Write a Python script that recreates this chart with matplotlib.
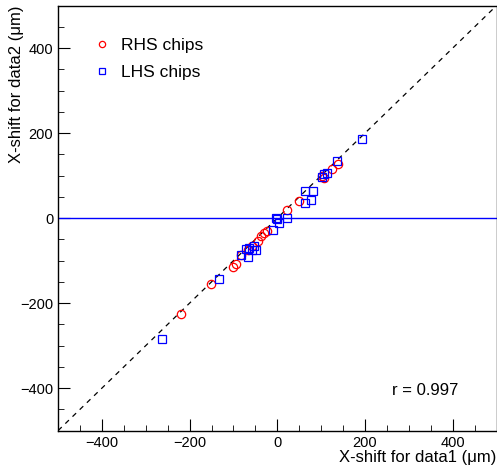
import matplotlib.pyplot as plt
from matplotlib.ticker import MultipleLocator

plt.rcParams['font.family'] = ['Liberation Sans', 'DejaVu Sans']

# RHS chips (data1 shift, data2 shift) in um
rhs_x = [-220, -151, -101, -94, -82, -68, -57, -45, -38, -30, -23, 23, 50, 102, 106, 125, 138]
rhs_y = [-226, -155, -115, -108, -87, -76, -66, -54, -43, -35, -31, 18, 40, 99, 95, 115, 128]

# LHS chips
lhs_x = [-264, -132, -83, -72, -66, -64, -57, -53, -49, -9, -4, 0, 4, 23, 64, 64, 76, 81, 101, 106, 113, 137, 194]
lhs_y = [-284, -144, -86, -73, -92, -70, -74, -66, -76, -29, 0, -3, -11, 1, 36, 64, 43, 64, 97, 103, 107, 135, 186]

r_value = 0.997

fig = plt.figure(figsize=(4.97, 4.69), dpi=100)
ax = fig.add_axes([0.117, 0.082, 0.882, 0.906])

ax.plot([-500, 500], [-500, 500], color='black', linestyle=(0, (4, 4)), linewidth=0.9)
ax.axhline(0, color='blue', linewidth=1)

ax.plot(rhs_x, rhs_y, linestyle='none', marker='o', markersize=6, markerfacecolor='none',
        markeredgecolor='red', markeredgewidth=0.9, label='RHS chips')
ax.plot(lhs_x, lhs_y, linestyle='none', marker='s', markersize=6, markerfacecolor='none',
        markeredgecolor='blue', markeredgewidth=0.9, label='LHS chips')

ax.set_xlim(-500, 500)
ax.set_ylim(-500, 500)
ax.xaxis.set_major_locator(MultipleLocator(200))
ax.xaxis.set_minor_locator(MultipleLocator(50))
ax.yaxis.set_major_locator(MultipleLocator(200))
ax.yaxis.set_minor_locator(MultipleLocator(50))
ax.tick_params(which='both', direction='in', labelsize=10.5, top=False, right=False)
ax.tick_params(which='major', length=8.6)
ax.tick_params(which='minor', length=4.3)
ax.tick_params(axis='x', pad=4)
for s in ax.spines.values():
    s.set_linewidth(1)

ax.set_xlabel('X-shift for data1 (μm)', fontsize=12, loc='right', labelpad=0)
ax.set_ylabel('X-shift for data2 (μm)', fontsize=12, loc='top', labelpad=-3)

leg = ax.legend(loc='upper left', bbox_to_anchor=(0.045, 0.96), frameon=False, fontsize=12.5,
                markerscale=0.75, handlelength=1, handletextpad=0.6, labelspacing=0.65)

ax.text(0.837, 0.095, f'r = {r_value}', transform=ax.transAxes, fontsize=12,
        ha='center', va='center')

fig.savefig('out.png', dpi=100)
